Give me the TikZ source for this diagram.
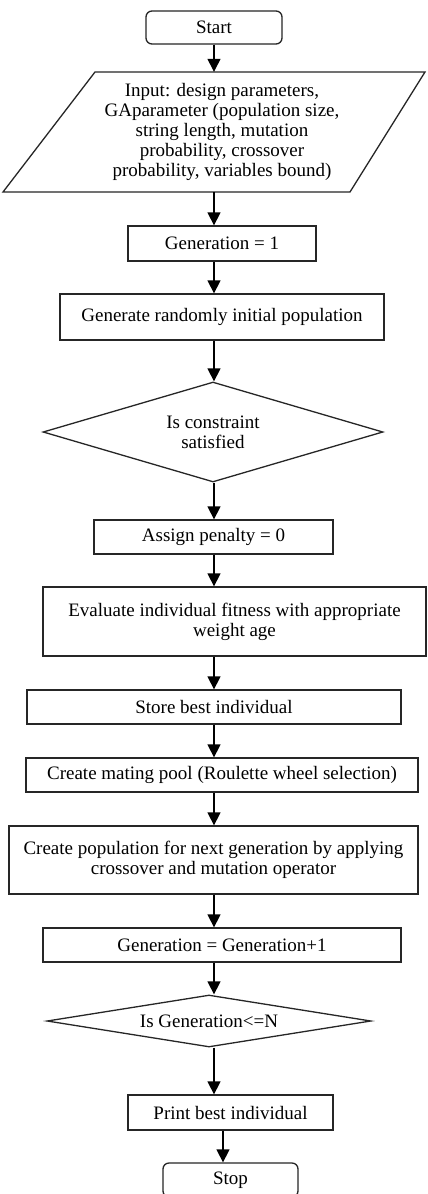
\documentclass[tikz,border=0pt]{standalone}
\usepackage{fontspec}
\setmainfont{Liberation Serif}
\usetikzlibrary{shapes.geometric,arrows.meta}
\begin{document}
\begin{tikzpicture}[x=1pt,y=-1pt,
  every node/.style={font=\fontsize{19}{20}\selectfont, inner sep=0pt, align=center},
  proc/.style={draw=black!85, line width=1.3pt, rectangle},
  term/.style={proc, rounded corners=6pt},
  dec/.style={draw=black!85, line width=1.3pt, diamond},
  outline/.style={draw=black!85, line width=1.3pt, line join=miter},
  arr/.style={draw=black, line width=1.3pt, -{Triangle[width=13pt,length=13pt]}}
]
\useasboundingbox (0,0) rectangle (428,1194);
\fill[white] (0,0) rectangle (428,1194);
\coordinate (ax) at (214,0);
\coordinate (sx) at (223,0);

\node[term, minimum width=136pt, minimum height=33pt] (start) at (214,27.5) {Start};
\draw[outline] (3,192) -- (95,72) -- (425,72) -- (350,192) -- cycle;
\node[minimum width=300pt, minimum height=120pt] (in) at (222,132) {Input: design parameters,\\GAparameter (population size,\\string length, mutation\\probability, crossover\\probability, variables bound)};
\node[proc, minimum width=188pt, minimum height=35pt] (gen1) at (222,243.5) {Generation = 1};
\node[proc, minimum width=324pt, minimum height=46pt] (gen) at (222,317) {Generate randomly initial population};
\node[dec, aspect=3.4, minimum width=340pt, minimum height=100pt] (d1) at (213,432) {Is constraint\\satisfied};
\node[proc, minimum width=239pt, minimum height=34pt] (assign) at (213.5,537) {Assign penalty = 0};
\node[proc, minimum width=383pt, minimum height=69pt] (eval) at (234.5,621.5) {Evaluate individual fitness with appropriate\\weight age};
\node[proc, minimum width=374pt, minimum height=34pt] (store) at (214,707) {Store best individual};
\node[proc, minimum width=392pt, minimum height=34pt] (mating) at (222,775) {Create mating pool (Roulette wheel selection)};
\node[proc, minimum width=409pt, minimum height=68pt] (pop) at (213.5,860) {Create population for next generation by applying\\crossover and mutation operator};
\node[proc, minimum width=358pt, minimum height=34pt] (gen2) at (222,945) {Generation = Generation+1};
\node[dec, aspect=6.2, minimum width=324pt, minimum height=52pt] (d2) at (209,1021) {Is Generation<=N};
\node[proc, minimum width=205pt, minimum height=35pt] (print) at (230.5,1112.5) {Print best individual};
\node[term, minimum width=135pt, minimum height=34pt] (stop) at (230.5,1180) {Stop};

\draw[arr] (start.south) -- (in.north -| ax);
\draw[arr] (in.south -| ax) -- (gen1.north -| ax);
\draw[arr] (gen1.south -| ax) -- (gen.north -| ax);
\draw[arr] (gen.south -| ax) -- (d1.north -| ax);
\draw[arr] (d1.south -| ax) -- (assign.north -| ax);
\draw[arr] (assign.south -| ax) -- (eval.north -| ax);
\draw[arr] (eval.south -| ax) -- (store.north -| ax);
\draw[arr] (store.south -| ax) -- (mating.north -| ax);
\draw[arr] (mating.south -| ax) -- (pop.north -| ax);
\draw[arr] (pop.south -| ax) -- (gen2.north -| ax);
\draw[arr] (gen2.south -| ax) -- (d2.north -| ax);
\draw[arr] (d2.south -| ax) -- (print.north -| ax);
\draw[arr] (print.south -| sx) -- (stop.north -| sx);
\end{tikzpicture}
\end{document}
